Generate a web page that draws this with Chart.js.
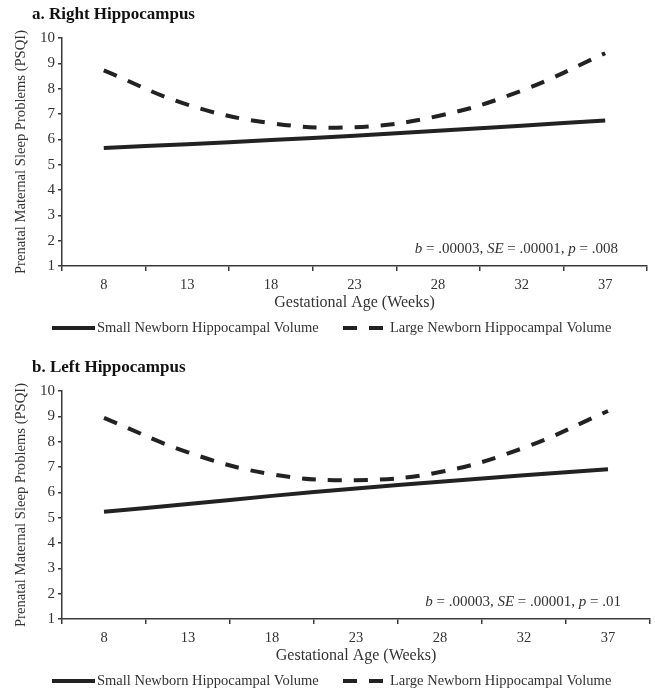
<!DOCTYPE html>
<html lang="en">
<head>
    <meta charset="UTF-8">
    <title>Prenatal Maternal Sleep Problems by Gestational Age</title>
    <script src="https://cdn.jsdelivr.net/npm/chart.js"></script>
    <style>
        body { margin: 0; background: #fff; overflow: hidden; width: 655px; height: 689px; }
        .panel { position: absolute; left: 0; width: 655px; height: 340px; }
    </style>
</head>
<body>
    <div class="panel" style="top:0"><canvas id="chartA"></canvas></div>
    <div class="panel" style="top:353px"><canvas id="chartB"></canvas></div>

    <script>
        // data
        const weeks = ['8', '13', '18', '23', '28', '32', '37'];
        const rightSmall = [5.66, 5.81, 5.97, 6.14, 6.34, 6.54, 6.74];
        const rightLarge = [8.72, 7.37, 6.64, 6.48, 6.92, 7.92, 9.40];
        const leftSmall = [5.23, 5.54, 5.86, 6.15, 6.42, 6.67, 6.91];
        const leftLarge = [8.94, 7.58, 6.71, 6.48, 6.80, 7.76, 9.21];
        const seriesLabels = ['Small Newborn Hippocampal Volume', 'Large Newborn Hippocampal Volume'];
        const panelTitles = ['a. Right Hippocampus', 'b. Left Hippocampus'];
        // [text, italic]
        const statRight = [['b', true], [' = .00003, ', false], ['SE', true], [' = .00001, ', false], ['p', true], [' = .008', false]];
        const statLeft = [['b', true], [' = .00003, ', false], ['SE', true], [' = .00001, ', false], ['p', true], [' = .01', false]];

        const serif = '"Liberation Serif", "Times New Roman", serif';
        const axisColor = '#3a3a3a';
        const textColor = '#333';
        const lineColor = '#222';
        const dash = [14, 12];

        function makePanel(id, title, small, large, stat, padRight) {
            const extras = {
                id: 'extras',
                afterDraw(chart) {
                    const c = chart.ctx;
                    const area = chart.chartArea;
                    c.save();
                    // panel title
                    c.fillStyle = '#111';
                    c.font = 'bold 17px ' + serif;
                    c.textBaseline = 'middle';
                    c.textAlign = 'left';
                    c.fillText(title, 32, 15);

                    // regression note, right aligned inside the plot
                    c.fillStyle = textColor;
                    let w = 0;
                    stat.forEach(([t, it]) => {
                        c.font = (it ? 'italic ' : '') + '15px ' + serif;
                        w += c.measureText(t).width;
                    });
                    let x = area.right - 29 - w;
                    const y = area.bottom - 17;
                    stat.forEach(([t, it]) => {
                        c.font = (it ? 'italic ' : '') + '15px ' + serif;
                        c.fillText(t, x, y);
                        x += c.measureText(t).width;
                    });

                    // legend
                    const ly = area.bottom + 62;
                    const items = [[52, 95, 97], [343, 386, 390]];
                    chart.data.datasets.forEach((ds, i) => {
                        const [x0, x1, tx] = items[i];
                        c.strokeStyle = ds.borderColor;
                        c.lineWidth = ds.borderWidth;
                        c.setLineDash(ds.borderDash || []);
                        c.beginPath();
                        c.moveTo(x0, ly);
                        c.lineTo(x1, ly);
                        c.stroke();
                        c.setLineDash([]);
                        c.fillStyle = textColor;
                        c.font = '14.5px ' + serif;
                        c.fillText(ds.label, tx, ly);
                    });
                    c.restore();
                }
            };

            return new Chart(document.getElementById(id), {
                type: 'line',
                data: {
                    labels: weeks,
                    datasets: [{
                        label: seriesLabels[0],
                        data: small,
                        borderColor: lineColor,
                        borderWidth: 4,
                        pointRadius: 0,
                        tension: 0.4,
                        fill: false
                    }, {
                        label: seriesLabels[1],
                        data: large,
                        borderColor: lineColor,
                        borderWidth: 4,
                        borderDash: dash,
                        pointRadius: 0,
                        tension: 0.4,
                        fill: false
                    }]
                },
                options: {
                    responsive: true,
                    maintainAspectRatio: false,
                    animation: false,
                    layout: { padding: { top: 38, left: 10, right: padRight, bottom: 26 } },
                    plugins: {
                        legend: { display: false },
                        tooltip: { enabled: false }
                    },
                    scales: {
                        x: {
                            offset: true,
                            grid: { offset: true, drawOnChartArea: false, tickLength: 5, color: axisColor, lineWidth: 1.5 },
                            border: { color: axisColor, width: 1.5 },
                            ticks: { color: textColor, font: { family: serif, size: 14.5 }, padding: 5 },
                            title: {
                                display: true,
                                text: 'Gestational Age (Weeks)',
                                color: textColor,
                                font: { family: serif, size: 16 },
                                padding: { top: 0, bottom: 2 }
                            },
                            afterFit(s) { s.height = 48; }
                        },
                        y: {
                            min: 1,
                            max: 10,
                            grid: { drawOnChartArea: false, tickLength: 4, color: axisColor, lineWidth: 1.5 },
                            border: { color: axisColor, width: 1.5 },
                            ticks: { stepSize: 1, color: textColor, font: { family: serif, size: 15 }, padding: 3 },
                            title: {
                                display: true,
                                text: 'Prenatal Maternal Sleep Problems (PSQI)',
                                color: textColor,
                                font: { family: serif, size: 14.6 },
                                padding: { top: 2, bottom: 0 }
                            },
                            afterFit(s) { s.width = 52; }
                        }
                    }
                },
                plugins: [extras]
            });
        }

        makePanel('chartA', panelTitles[0], rightSmall, rightLarge, statRight, 8);
        makePanel('chartB', panelTitles[1], leftSmall, leftLarge, statLeft, 5);
    </script>
</body>
</html>
